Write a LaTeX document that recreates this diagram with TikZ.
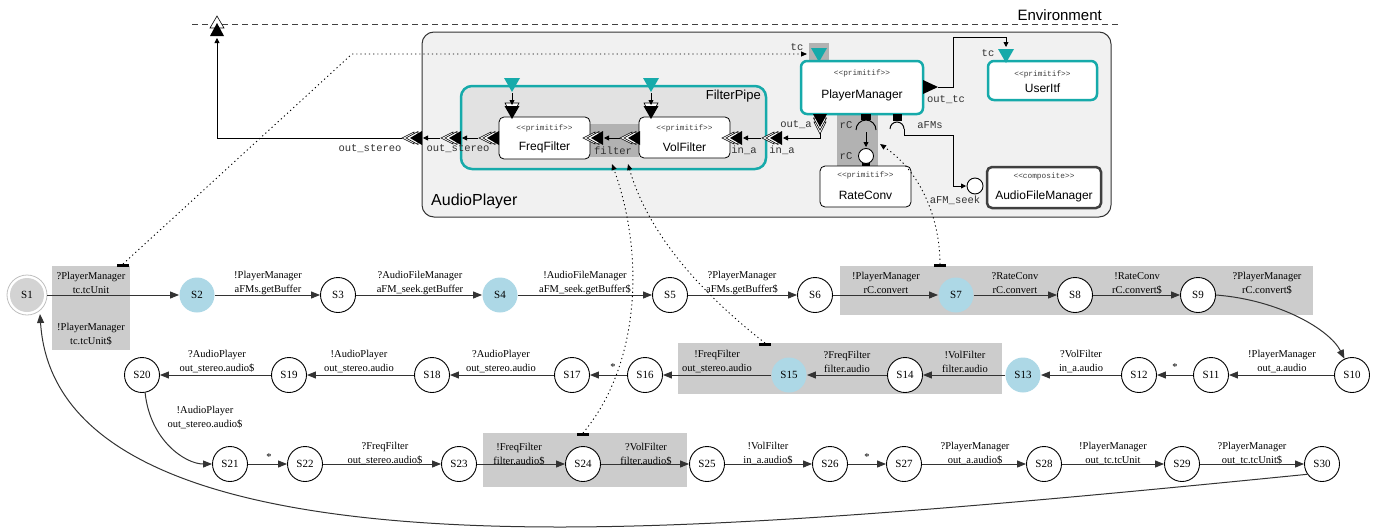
\documentclass[tikz,border=0pt]{standalone}
\usepackage{fontspec}
\setmainfont{Liberation Serif}
\setsansfont{Liberation Sans}
\setmonofont{Liberation Mono}
\usetikzlibrary{arrows.meta}
\definecolor{tealc}{RGB}{22,170,170}
\definecolor{apfill}{RGB}{241,241,241}
\definecolor{fpfill}{RGB}{226,226,226}
\definecolor{bandc}{RGB}{178,178,178}
\definecolor{regc}{RGB}{204,204,204}
\definecolor{bluec}{RGB}{173,216,230}
\definecolor{sonec}{RGB}{211,211,211}
\newcommand\portLeft[2]{%
  \draw[line width=0.6pt,fill=white] (#1-8,#2-6) -- (#1-20,#2) -- (#1-8,#2+6) -- cycle;
  \draw[line width=0.6pt,fill=white] (#1-4,#2-6.5) -- (#1-16,#2) -- (#1-4,#2+6.5) -- cycle;
  \fill (#1,#2-7) -- (#1-12,#2) -- (#1,#2+7) -- cycle;}
\newcommand\portDown[2]{%
  \draw[line width=0.6pt,fill=white] (#1-6,#2+8) -- (#1,#2+20) -- (#1+6,#2+8) -- cycle;
  \draw[line width=0.6pt,fill=white] (#1-6.5,#2+4) -- (#1,#2+16) -- (#1+6.5,#2+4) -- cycle;
  \fill (#1-7,#2) -- (#1,#2+13) -- (#1+7,#2) -- cycle;}
\newcommand\portDownB[2]{%
  \draw[line width=0.6pt,fill=white] (#1-7,#2-3) -- (#1,#2+10) -- (#1+7,#2-3) -- cycle;
  \fill (#1-7.5,#2) -- (#1,#2+13) -- (#1+7.5,#2) -- cycle;}
\newcommand\tealDown[2]{%
  \fill[tealc] (#1-8,#2) -- (#1,#2+14) -- (#1+8,#2) -- cycle;}
\begin{document}
\begin{tikzpicture}[x=1pt,y=-1pt,
  apbox/.style={draw=black!80, line width=1pt, fill=apfill, rounded corners=12pt, inner sep=0},
  fpbox/.style={draw=tealc, line width=2.5pt, fill=fpfill, rounded corners=11pt, inner sep=0},
  comp/.style={draw=black, line width=0.8pt, fill=white, rounded corners=5pt, inner sep=0},
  tcomp/.style={draw=tealc, line width=2.5pt, fill=white, rounded corners=6pt, inner sep=0},
  ccomp/.style={draw=black!75, line width=2.5pt, fill=white, rounded corners=5pt, inner sep=0},
  stereo/.style={font=\fontsize{7.8}{9}\selectfont\ttfamily, text=black!75, inner sep=0},
  cname/.style={font=\fontsize{12}{14}\selectfont\sffamily, inner sep=0},
  plabel/.style={font=\fontsize{10.5}{12}\selectfont\ttfamily, text=black!80, inner sep=0},
  sa/.style={line width=0.8pt, -{Triangle[length=5pt,width=5pt]}},
  dotl/.style={line width=0.9pt, dash pattern=on 1.2pt off 3pt, -{Triangle[length=6pt,width=5pt]}},
  st/.style={circle, draw=black, line width=0.9pt, fill=white, minimum size=35pt, inner sep=0, font=\fontsize{11}{12}\selectfont},
  stb/.style={st, draw=none, fill=bluec},
  tr/.style={draw=black!80, line width=1pt, -{Triangle[length=9pt,width=7pt]}},
  lab/.style={align=center, font=\fontsize{10.5}{14}\selectfont, inner sep=0},
  reg/.style={fill=regc, draw=none}]
\useasboundingbox (0,0) rectangle (1380,530);

% ---------- Environment ----------
\draw[black!75, line width=1pt, dash pattern=on 6pt off 4pt] (192,24) -- (1118,24);
\node[font=\fontsize{15}{16}\selectfont\sffamily, anchor=east, inner sep=0] (env) at (1102,15) {Environment};

% ---------- AudioPlayer ----------
\node[apbox, minimum width=689pt, minimum height=185pt] (ap) at (766.5,124.5) {};
\node[font=\fontsize{16}{18}\selectfont\sffamily, anchor=west, inner sep=0] (aplab) at (431,201) {AudioPlayer};

% FilterPipe
\node[fpbox, minimum width=305pt, minimum height=83pt] (fp) at (613.5,127.5) {};
\node[font=\fontsize{13}{15}\selectfont\sffamily, anchor=east, inner sep=0] (fplab) at (761,96) {FilterPipe};

% bands
\fill[bandc] (590,124) rectangle (639,157);
\fill[bandc] (837,113) rectangle (878,166);
\fill[bandc] (809,43) rectangle (829,61);

% components
\node[comp, minimum width=91pt, minimum height=42pt] (ff) at (544.5,138) {};
\node[stereo] (ffs) at (544.5,128) {<<primitif>>};
\node[cname] (ffn) at (544.5,147) {FreqFilter};

\node[comp, minimum width=91pt, minimum height=41pt] (vf) at (684.5,137.5) {};
\node[stereo] (vfs) at (684.5,128) {<<primitif>>};
\node[cname] (vfn) at (684.5,147) {VolFilter};

\node[tcomp, minimum width=122pt, minimum height=53pt] (pm) at (862,87.5) {};
\node[stereo] (pms) at (862,73) {<<primitif>>};
\node[cname] (pmn) at (862,95) {PlayerManager};

\node[tcomp, minimum width=109pt, minimum height=39pt] (ui) at (1042.5,80.5) {};
\node[stereo] (uis) at (1042.5,74) {<<primitif>>};
\node[cname] (uin) at (1042.5,88) {UserItf};

\node[comp, minimum width=91pt, minimum height=41pt] (rc) at (865.5,186.5) {};
\node[stereo] (rcs) at (865.5,175) {<<primitif>>};
\node[cname] (rcn) at (865.5,195) {RateConv};

\node[ccomp, minimum width=114pt, minimum height=41pt] (afm) at (1044,187.5) {};
\node[stereo] (afms) at (1044,176) {<<composite>>};
\node[cname] (afmn) at (1044,196) {AudioFileManager};

% ---------- ports ----------
\portLeft{422}{138}
\portLeft{461}{138}
\portLeft{499}{138}
\portLeft{603}{138}
\portLeft{640}{138}
\portLeft{742}{138}
\portLeft{782}{138}
\tealDown{512}{78}
\tealDown{651}{78}
\portDownB{512}{106}
\portDownB{651}{106}
\tealDown{819}{48}
\tealDown{1006}{49}
\portDown{820}{114}
\fill (923,80) -- (938,87) -- (923,94) -- cycle;
% env port
\draw[line width=0.6pt,fill=white] (210,28) -- (217,16) -- (224,28) -- cycle;
\fill (210,36) -- (217,23) -- (224,36) -- cycle;

% port coordinates
\coordinate (envp) at (217,38);
\coordinate (apo) at (402,138);
\coordinate (fpo) at (440,138);
\coordinate (apoin) at (423,138);
\coordinate (ffo) at (478,138);
\coordinate (fpoin) at (462,138);
\coordinate (vff) at (620,138);
\coordinate (fff) at (604,138);
\coordinate (fpa) at (761,138);
\coordinate (vfa) at (743,138);
\coordinate (pmoa) at (820,133);
\coordinate (fpain) at (783,138);
\coordinate (ffin) at (512,93);
\coordinate (ffin2) at (512,105);
\coordinate (vfin) at (651,93);
\coordinate (vfin2) at (651,105);
\coordinate (otc) at (938,87);
\coordinate (uitc) at (1006,47);

% connectors
\draw[sa] (apo) -- (217,138) -- (envp);
\draw[sa] (fpo) -- (apoin);
\draw[sa] (ffo) -- (fpoin);
\draw[sa] (vff) -- (fff);
\draw[sa] (fpa) -- (vfa);
\draw[sa] (pmoa) -- (820,138) -- (fpain);
\draw[sa] (ffin) -- (ffin2);
\draw[sa] (vfin) -- (vfin2);
\draw[sa] (otc) -- (953,87) -- (953,37) -- (1006,37) -- (uitc);

% rC socket / lollipop
\fill (861,114) rectangle (871,120);
\draw[line width=1pt] (856,130) arc[start angle=180, end angle=360, radius=10];
\coordinate (rcreq) at (866,132);
\coordinate (rcprov) at (866,147);
\draw[sa] (rcreq) -- (rcprov);
\fill (862,162) rectangle (870,166);
\draw[line width=0.9pt, fill=white] (866,156) circle[radius=7.5];
% aFMs socket / lollipop
\fill (893,114) rectangle (902,121);
\draw[line width=1pt] (890,129) arc[start angle=180, end angle=360, radius=7];
\coordinate (afmreq) at (904,129);
\coordinate (afmprov) at (966,186);
\draw[sa] (afmreq) -- (904,135) -- (953,135) -- (953,186) -- (afmprov);
\draw[line width=0.9pt, fill=white] (975,186) circle[radius=8];

% port labels
\node[plabel] (lo1) at (370,149) {out\_stereo};
\node[plabel] (lo2) at (458,149) {out\_stereo};
\node[plabel] (lfil) at (613,151) {filter};
\node[plabel] (lin1) at (744,150) {in\_a};
\node[plabel] (lin2) at (782,150) {in\_a};
\node[plabel] (loa) at (796,125) {out\_a};
\node[plabel] (lrc1) at (846,125) {rC};
\node[plabel] (lrc2) at (846,156) {rC};
\node[plabel] (lafms) at (930,125) {aFMs};
\node[plabel] (laseek) at (955,200) {aFM\_seek};
\node[plabel] (lotc) at (946,100) {out\_tc};
\node[plabel] (ltc1) at (797,47) {tc};
\node[plabel] (ltc2) at (988,53) {tc};

% ---------- state machine regions ----------
\fill[reg] (52,266) rectangle (130,350);
\fill[reg] (840,266) rectangle (1313,315);
\fill[reg] (678,343) rectangle (1002,394);
\fill[reg] (483,433) rectangle (687,487);
\fill (117,264) rectangle (129,267);
\fill (934,264) rectangle (946,267);
\fill (759,343) rectangle (771,346);
\fill (577,433) rectangle (589,436);
\coordinate (m1) at (123,264);
\coordinate (m7) at (940,264);
\coordinate (m15) at (765,343);
\coordinate (m24) at (583,433);

% ---------- states ----------
\node[st, draw=none, fill=sonec, minimum size=34pt] (S1) at (27,295) {S1};
\draw[black!25, line width=0.8pt] (S1.center) circle[radius=20];
\node[stb] (S2) at (197,295) {S2};
\node[st] (S3) at (338,295) {S3};
\node[stb] (S4) at (500,295) {S4};
\node[st] (S5) at (670,295) {S5};
\node[st] (S6) at (815,295) {S6};
\node[stb] (S7) at (956,295) {S7};
\node[st] (S8) at (1075,295) {S8};
\node[st] (S9) at (1198,295) {S9};

\node[st] (S10) at (1352,375) {S10};
\node[st] (S11) at (1211,375) {S11};
\node[st] (S12) at (1139,375) {S12};
\node[stb] (S13) at (1023,375) {S13};
\node[st] (S14) at (905,375) {S14};
\node[stb] (S15) at (789,375) {S15};
\node[st] (S16) at (645,375) {S16};
\node[st] (S17) at (572,375) {S17};
\node[st] (S18) at (432,375) {S18};
\node[st] (S19) at (289,375) {S19};
\node[st] (S20) at (142,375) {S20};

\node[st] (S21) at (230,464) {S21};
\node[st] (S22) at (305,464) {S22};
\node[st] (S23) at (459,464) {S23};
\node[st] (S24) at (583,464) {S24};
\node[st] (S25) at (707,464) {S25};
\node[st] (S26) at (830,464) {S26};
\node[st] (S27) at (904,464) {S27};
\node[st] (S28) at (1044,464) {S28};
\node[st] (S29) at (1182,464) {S29};
\node[st] (S30) at (1322,464) {S30};

% ---------- transitions ----------
\draw[tr] ([xshift=3pt]S1.east) -- (S2);
\draw[tr] (S2) -- (S3);
\draw[tr] (S3) -- (S4);
\draw[tr] (S4) -- (S5);
\draw[tr] (S5) -- (S6);
\draw[tr] (S6) -- (S7);
\draw[tr] (S7) -- (S8);
\draw[tr] (S8) -- (S9);
\draw[tr] (S9.east) .. controls (1280,300) and (1330,330) .. (S10.115);
\draw[tr] (S10) -- (S11);
\draw[tr] (S11) -- (S12);
\draw[tr] (S12) -- (S13);
\draw[tr] (S13) -- (S14);
\draw[tr] (S14) -- (S15);
\draw[tr] (S15) -- (S16);
\draw[tr] (S16) -- (S17);
\draw[tr] (S17) -- (S18);
\draw[tr] (S18) -- (S19);
\draw[tr] (S19) -- (S20);
\draw[tr] (S20.280) .. controls (150,440) and (185,464) .. (S21.west);
\draw[tr] (S21) -- (S22);
\draw[tr] (S22) -- (S23);
\draw[tr] (S23) -- (S24);
\draw[tr] (S24) -- (S25);
\draw[tr] (S25) -- (S26);
\draw[tr] (S26) -- (S27);
\draw[tr] (S27) -- (S28);
\draw[tr] (S28) -- (S29);
\draw[tr] (S29) -- (S30);
\draw[tr] (S30.215) .. controls (1000,505) and (750,527) .. (560,527) .. controls (250,527) and (50,470) .. (40,314);

% ---------- transition labels ----------
\node[lab] (t12) at (91,283) {?PlayerManager\\tc.tcUnit};
\node[lab] (t12b) at (91,334) {!PlayerManager\\tc.tcUnit\$};
\node[lab] (t23) at (268,283) {!PlayerManager\\aFMs.getBuffer};
\node[lab] (t34) at (420,283) {?AudioFileManager\\aFM\_seek.getBuffer};
\node[lab] (t45) at (585,283) {!AudioFileManager\\aFM\_seek.getBuffer\$};
\node[lab] (t56) at (742,283) {?PlayerManager\\aFMs.getBuffer\$};
\node[lab] (t67) at (886,283) {!PlayerManager\\rC.convert};
\node[lab] (t78) at (1015,283) {?RateConv\\rC.convert};
\node[lab] (t89) at (1137,283) {!RateConv\\rC.convert\$};
\node[lab] (t910) at (1267,283) {?PlayerManager\\rC.convert\$};

\node[lab] (t1011) at (1282,362) {!PlayerManager\\out\_a.audio};
\node[lab] (t1112) at (1175,367) {*};
\node[lab] (t1213) at (1081,362) {?VolFilter\\in\_a.audio};
\node[lab] (t1314) at (965,362) {!VolFilter\\filter.audio};
\node[lab] (t1415) at (847,362) {?FreqFilter\\filter.audio};
\node[lab] (t1516) at (717,362) {!FreqFilter\\out\_stereo.audio};
\node[lab] (t1617) at (613,367) {*};
\node[lab] (t1718) at (501,362) {?AudioPlayer\\out\_stereo.audio};
\node[lab] (t1819) at (359,362) {!AudioPlayer\\out\_stereo.audio};
\node[lab] (t1920) at (217,362) {?AudioPlayer\\out\_stereo.audio\$};
\node[lab] (t2021) at (205,418) {!AudioPlayer\\out\_stereo.audio\$};

\node[lab] (t2122) at (269,457) {*};
\node[lab] (t2223) at (385,454) {?FreqFilter\\out\_stereo.audio\$};
\node[lab] (t2324) at (519,454) {!FreqFilter\\filter.audio\$};
\node[lab] (t2425) at (646,454) {?VolFilter\\filter.audio\$};
\node[lab] (t2526) at (768,454) {!VolFilter\\in\_a.audio\$};
\node[lab] (t2627) at (867,457) {*};
\node[lab] (t2728) at (975,454) {?PlayerManager\\out\_a.audio\$};
\node[lab] (t2829) at (1113,454) {!PlayerManager\\out\_tc.tcUnit};
\node[lab] (t2930) at (1252,454) {?PlayerManager\\out\_tc.tcUnit\$};

% ---------- dotted links ----------
\coordinate (tcin) at (807,54);
\coordinate (rcin) at (880,144);
\coordinate (fin1) at (612,164);
\coordinate (fin2) at (628,164);
\draw[dotl] (m1) -- (352,54) -- (tcin);
\draw[dotl] (m7) .. controls (940,225) and (925,175) .. (rcin);
\draw[dotl] (m15) .. controls (710,300) and (650,240) .. (fin2);
\draw[dotl] (m24) .. controls (640,365) and (645,255) .. (fin1);
\end{tikzpicture}
\end{document}
